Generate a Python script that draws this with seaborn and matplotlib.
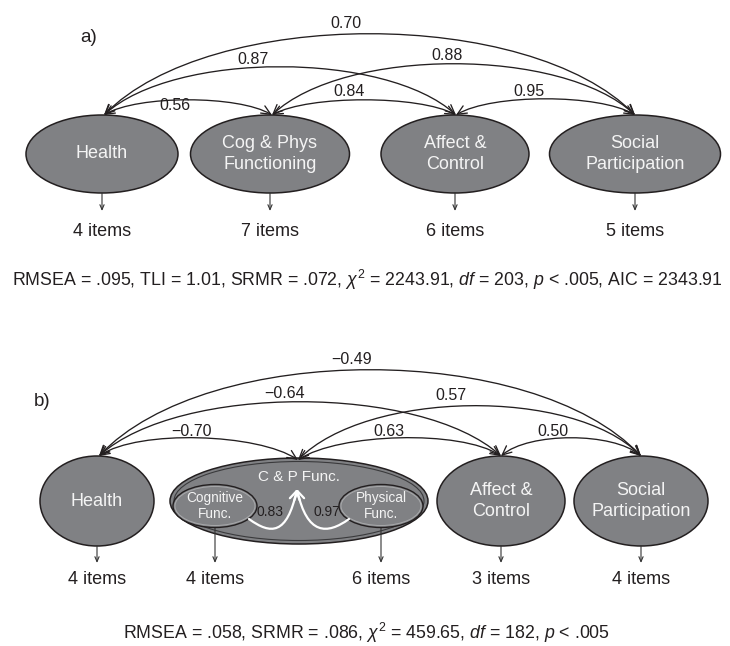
import matplotlib
matplotlib.use("Agg")
import numpy as np
import pandas as pd
import seaborn as sns
import matplotlib.pyplot as plt
from matplotlib.patches import Ellipse, FancyArrowPatch
from matplotlib.path import Path

sns.set_theme(style="white")
plt.rcParams['font.family'] = ['Liberation Sans', 'DejaVu Sans']
plt.rcParams['mathtext.fontset'] = 'custom'
plt.rcParams['mathtext.rm'] = 'Liberation Sans'
plt.rcParams['mathtext.it'] = 'Liberation Sans:italic'
plt.rcParams['mathtext.sf'] = 'Liberation Sans'

# ---------------- data ----------------
factors_a = ["Health", "Cog & Phys\nFunctioning", "Affect &\nControl", "Social\nParticipation"]
items_a = [4, 7, 6, 5]
corr_pairs = [(0, 1), (0, 2), (0, 3), (1, 2), (1, 3), (2, 3)]
corr_a = [0.56, 0.87, 0.70, 0.84, 0.88, 0.95]
fit_a = (r"RMSEA = .095, TLI = 1.01, SRMR = .072, $\chi^2$ = 2243.91, "
         r"$df$ = 203, $p$ < .005, AIC = 2343.91")

factors_b = ["Health", "C & P Func.", "Affect &\nControl", "Social\nParticipation"]
subfactors_b = ["Cognitive\nFunc.", "Physical\nFunc."]
loadings_b = [0.83, 0.97]
items_b = [4, 4, 6, 3, 4]
corr_b = [-0.70, -0.64, -0.49, 0.63, 0.57, 0.50]
fit_b = r"RMSEA = .058, SRMR = .086, $\chi^2$ = 459.65, $df$ = 182, $p$ < .005"

# ---------------- style ----------------
FILL = "#808184"
EDGE = "#231f20"
TXT = "#231f20"
WTXT = "#f4f4f4"


def fmt(v):
    return f"{v:.2f}".replace("-", "\u2212")


fig = plt.figure(figsize=(7.3, 6.46), dpi=100)
ax = fig.add_axes([0, 0, 1, 1])
ax.set_xlim(0, 730)
ax.set_ylim(646, 0)
ax.axis("off")


def cov_arc(x1, y1, x2, y2, apex, color=EDGE, lw=0.95):
    base = (y1 + y2) / 2
    k = (base - apex) * 4 / 3
    a = 0.2 * (x2 - x1)
    verts = [(x1, y1), (x1 + a, y1 - k), (x2 - a, y2 - k), (x2, y2)]
    p = Path(verts, [Path.MOVETO, Path.CURVE4, Path.CURVE4, Path.CURVE4])
    arr = FancyArrowPatch(path=p, arrowstyle="<->,head_length=0.55,head_width=0.25",
                          mutation_scale=12, lw=lw, color=color, zorder=3)
    ax.add_patch(arr)


def down_arrow(x, y1, y2):
    arr = FancyArrowPatch((x, y1), (x, y2), arrowstyle="->,head_length=0.35,head_width=0.15",
                          mutation_scale=10, lw=0.8, color="#333333", shrinkA=0, shrinkB=0, zorder=2)
    ax.add_patch(arr)


# ================= panel a =================
cx_a = [102, 270, 455, 635]
w_a = [152, 159, 148, 171]
cy_a, h_a = 154, 78
tip_a = [104, 272, 456, 635]
tip_y_a = 115
apex_a = [100, 67, 34, 100, 64, 99]
lab_a = [(175, 105), (253, 59), (346, 23), (349, 92), (447, 56), (529, 91)]

ax.text(89, 38, "a)", fontsize=13.5, color=TXT, ha="center", va="center")

for i, name in enumerate(factors_a):
    ax.add_patch(Ellipse((cx_a[i], cy_a), w_a[i], h_a, facecolor=FILL, edgecolor=EDGE, lw=1.1, zorder=2))
    ax.text(cx_a[i], cy_a, name, fontsize=13, color=WTXT, ha="center", va="center",
            linespacing=1.25, zorder=4)
    down_arrow(cx_a[i], cy_a + h_a / 2, 211)
    ax.text(cx_a[i], 231, f"{items_a[i]} items", fontsize=13, color=TXT, ha="center", va="center")

for (i, j), v, apex, (lx, ly) in zip(corr_pairs, corr_a, apex_a, lab_a):
    cov_arc(tip_a[i], tip_y_a, tip_a[j], tip_y_a, apex)
    ax.text(lx, ly, fmt(v), fontsize=11.5, color=TXT, ha="center", va="center", zorder=5)

ax.text(367, 280, fit_a, fontsize=12.75, color=TXT, ha="center", va="center")

# ================= panel b =================
cx_b = [97, 299, 501, 641]
w_b = [114, 258, 128, 134]
cy_b = 501
h_b = [90, 86, 90, 90]
tip_b = [99, 298, 501, 641]
tip_y_b = [456, 460, 456, 456]
apex_b = [438, 402, 370, 438, 406, 438]
lab_b = [(192, 431), (285, 393), (352, 360), (389, 431), (451, 395), (553, 431)]

ax.text(42, 402, "b)", fontsize=13.5, color=TXT, ha="center", va="center")

for i, name in enumerate(factors_b):
    ax.add_patch(Ellipse((cx_b[i], cy_b), w_b[i], h_b[i], facecolor=FILL, edgecolor=EDGE, lw=1.1, zorder=2))
    if i == 1:
        ax.add_patch(Ellipse((cx_b[i], cy_b), w_b[i] - 8, h_b[i] - 7, facecolor="none",
                             edgecolor="#3a3a3c", lw=0.8, zorder=2))
        ax.text(cx_b[i], 477, name, fontsize=11, color=WTXT, ha="center", va="center", zorder=4)
    else:
        ax.text(cx_b[i], cy_b, name, fontsize=13, color=WTXT, ha="center", va="center",
                linespacing=1.25, zorder=4)

# sub-factors inside C & P Func.
sub_cx = [215, 381]
sub_cy, sub_w, sub_h = 506, 84, 43
for k, name in enumerate(subfactors_b):
    ax.add_patch(Ellipse((sub_cx[k], sub_cy), sub_w, sub_h, facecolor=FILL, edgecolor=EDGE, lw=1.0, zorder=3))
    ax.add_patch(Ellipse((sub_cx[k], sub_cy), sub_w - 4, sub_h - 4, facecolor="none",
                         edgecolor="#a8a9ab", lw=0.7, zorder=3))
    ax.text(sub_cx[k], sub_cy, name, fontsize=9.8, color=WTXT, ha="center", va="center",
            linespacing=1.25, zorder=4)

# white loading arrows into C & P Func.
tip_w = (297, 489)
starts = [(249, 519), (349, 519)]
for k, (sx, sy) in enumerate(starts):
    sgn = 1 if k == 0 else -1
    verts = [(sx, sy), (sx + sgn * 22, sy + 16), (tip_w[0] - sgn * 10, sy + 16), tip_w]
    p = Path(verts, [Path.MOVETO, Path.CURVE4, Path.CURVE4, Path.CURVE4])
    ax.add_patch(FancyArrowPatch(path=p, arrowstyle="->,head_length=0.5,head_width=0.3",
                                 mutation_scale=12, lw=1.6, color="white", zorder=4))
lab_load = [(270, 512), (327, 512)]
for (lx, ly), v in zip(lab_load, loadings_b):
    ax.text(lx, ly, fmt(v), fontsize=10, color=TXT, ha="center", va="center", zorder=5)

# indicator arrows / item counts
item_x_b = [97, 215, 381, 501, 641]
item_top_b = [cy_b + h_b[0] / 2, sub_cy + sub_h / 2, sub_cy + sub_h / 2, cy_b + h_b[2] / 2, cy_b + h_b[3] / 2]
for x, top, n in zip(item_x_b, item_top_b, items_b):
    down_arrow(x, top, 563)
    ax.text(x, 580, f"{n} items", fontsize=13, color=TXT, ha="center", va="center")

for (i, j), v, apex, (lx, ly) in zip(corr_pairs, corr_b, apex_b, lab_b):
    cov_arc(tip_b[i], tip_y_b[i], tip_b[j], tip_y_b[j], apex)
    ax.text(lx, ly, fmt(v), fontsize=11.5, color=TXT, ha="center", va="center", zorder=5)

ax.text(366, 633, fit_b, fontsize=12.75, color=TXT, ha="center", va="center")

fig.savefig("out.png", dpi=100, facecolor="white")
